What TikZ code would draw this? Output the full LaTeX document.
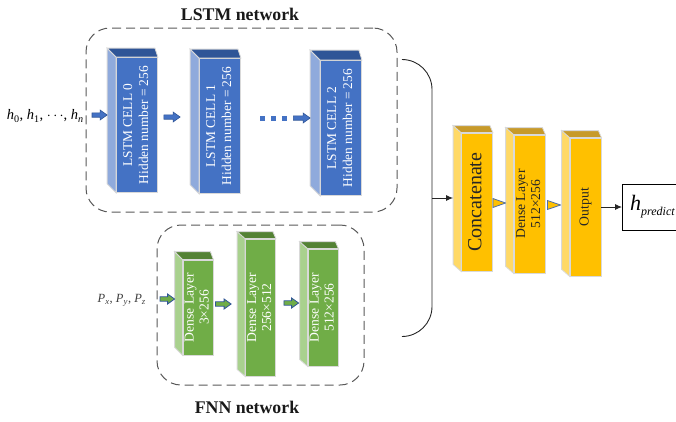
\documentclass[tikz,border=0pt]{standalone}
\usepackage{fontspec}
\setmainfont{Liberation Serif}
\usetikzlibrary{calc,arrows.meta}
\definecolor{bfront}{HTML}{4472C4}
\definecolor{btop}{HTML}{2F5597}
\definecolor{bside}{HTML}{8FAADC}
\definecolor{gfront}{HTML}{70AD47}
\definecolor{gtop}{HTML}{548235}
\definecolor{gside}{HTML}{A9D18E}
\definecolor{yfront}{HTML}{FFC000}
\definecolor{ytop}{HTML}{C79A2A}
\definecolor{yside}{HTML}{FFD966}
\definecolor{edgec}{HTML}{D9D9D9}
\definecolor{arrblue}{HTML}{2F5597}
\definecolor{dashc}{HTML}{595959}
\newcommand\vtext[1]{\rotatebox{90}{\begin{tabular}{@{}c@{}}#1\end{tabular}}}
\newcommand\cubefaces[4]{%
  \filldraw[draw=edgec,line width=0.8pt,fill=#4side] (#1.north west) -- ++(-#2,-#3) -- ($(#1.south west)+(-#2,-#3)$) -- (#1.south west) -- cycle;
  \filldraw[draw=edgec,line width=0.8pt,fill=#4top] (#1.north west) -- ++(-#2,-#3) -- ($(#1.north east)+(-3,-#3)$) -- (#1.north east) -- cycle;}
\newcommand\barrow[3][]{%
  \filldraw[#1] let \p1=(#2),\p2=(#3) in (\x1,\y1+2.2pt) -- (\x2-7pt,\y1+2.2pt) -- (\x2-7pt,\y1+5pt) -- (\x2,\y1) -- (\x2-7pt,\y1-5pt) -- (\x2-7pt,\y1-2.2pt) -- (\x1,\y1-2.2pt) -- cycle;}
\newcommand\ytriangle[2]{%
  \filldraw[ytri] let \p1=(#1),\p2=(#2) in (\x1,\y1+4.5pt) -- (\x2,\y1) -- (\x1,\y1-4.5pt) -- cycle;}
\tikzset{
  cube/.style={rectangle, draw=edgec, line width=0.8pt, inner sep=0pt},
  bcell/.style={cube, fill=bfront, text=white, font=\fontsize{13.4}{16}\selectfont, minimum width=41pt, minimum height=135pt},
  gcell/.style={cube, fill=gfront, text=white, font=\fontsize{13.6}{15}\selectfont, minimum width=30pt},
  ycell/.style={cube, fill=yfront, text=black!85, minimum width=31pt, minimum height=138pt},
  dbox/.style={draw=dashc, line width=1pt, dash pattern=on 9pt off 5pt, rounded corners=24pt, inner sep=0pt},
  title/.style={font=\bfseries\fontsize{17.8}{20}\selectfont, text=black!90},
  bluearr/.style={fill=bfront, draw=arrblue, line width=0.6pt},
  greenarr/.style={fill=gfront, draw=arrblue, line width=0.8pt},
  ytri/.style={fill=yfront, draw=arrblue!85, line width=0.8pt, line join=round},
  link/.style={line width=0.9pt, draw=black!85},
  linkarr/.style={link, -{Latex[length=7pt,width=6pt]}}
}
\begin{document}
\begin{tikzpicture}[x=1pt,y=-1pt]
\useasboundingbox (0,0) rectangle (676,421);
% dashed group boxes
\node[dbox, minimum width=311pt, minimum height=184pt] (lbox) at (241.5,120) {};
\node[dbox, minimum width=207pt, minimum height=160pt] (fbox) at (260.5,305) {};
\node[title] (lt) at (240,14) {LSTM network};
\node[title] (ft) at (247,407) {FNN network};
% LSTM cells
\node[bcell] (c0) at (137,125) {\vtext{LSTM CELL 0\\Hidden number = 256}};
\cubefaces{c0}{9}{9}{b}
\node[bcell] (c1) at (220,126) {\vtext{LSTM CELL 1\\Hidden number = 256}};
\cubefaces{c1}{9}{9}{b}
\node[bcell] (c2) at (341,128) {\vtext{LSTM CELL 2\\Hidden number = 256}};
\cubefaces{c2}{10}{10}{b}
% FNN layers
\node[gcell, minimum height=95pt] (d1) at (198,307.5) {\vtext{Dense Layer\\3×256}};
\cubefaces{d1}{8}{8}{g}
\node[gcell, minimum height=137pt] (d2) at (260.5,307.5) {\vtext{Dense Layer\\256×512}};
\cubefaces{d2}{8}{7}{g}
\node[gcell, minimum height=117pt] (d3) at (323,307.5) {\vtext{Dense Layer\\512×256}};
\cubefaces{d3}{8}{7}{g}
% merge layers
\node[ycell, font=\fontsize{20}{22}\selectfont] (y1) at (477,202) {\vtext{Concatenate}};
\cubefaces{y1}{8}{7}{y}
\node[ycell, font=\fontsize{13.6}{15}\selectfont] (y2) at (529.5,204) {\vtext{Dense Layer\\512×256}};
\cubefaces{y2}{8}{7}{y}
\node[ycell, font=\fontsize{13.7}{15}\selectfont] (y3) at (585.5,207) {\vtext{Output}};
\cubefaces{y3}{8}{7}{y}
% inputs
\node[anchor=east, inner sep=0pt, font=\fontsize{14.5}{15}\selectfont] (hin) at (84,116)
  {\textit{h}\textsubscript{0}, \textit{h}\textsubscript{1}, $\cdots$, \textit{h}\textsubscript{\textit{n}}};
\node[anchor=east, inner sep=0pt, font=\fontsize{12.5}{13}\selectfont, text=black!75] (pin) at (146,300)
  {\textit{P}\textsubscript{\textit{x}}, \textit{P}\textsubscript{\textit{y}}, \textit{P}\textsubscript{\textit{z}}};
% output box
\node[draw, line width=0.8pt, anchor=west, minimum width=60pt, minimum height=46pt, inner sep=0pt] (hbox) at (622,207)
  {{\fontsize{22}{22}\selectfont\itshape h}{\fontsize{12}{12}\selectfont\itshape\raisebox{-5pt}{predict}}};
% blue arrows
\coordinate (hinA) at ($(hin.east)+(8,-1)$);
\barrow[bluearr]{hinA}{$(c0.west)+(-9,-10)$}
\barrow[bluearr]{$(c0.east)+(6,-8)$}{$(c1.west)+(-19,-9)$}
\coordinate (dotsA) at ($(c1.east)+(19.5,-7.5)$);
\coordinate (dotsB) at ($(c1.east)+(46.5,-7.5)$);
\draw[draw=bfront, line width=5pt, dash pattern=on 5pt off 6pt] (dotsA) -- (dotsB);
\barrow[bluearr]{$(dotsB)+(6,-0.5)$}{$(c2.west)+(-10,-10)$}
% green arrows
\coordinate (pinA) at ($(pin.east)+(14,-1)$);
\barrow[greenarr]{pinA}{$(d1.west)+(-8,-8.5)$}
\barrow[greenarr]{$(d1.east)+(2,-3.5)$}{$(d2.west)+(-14,-3.5)$}
\barrow[greenarr]{$(d2.east)+(8,-4.5)$}{$(d3.west)+(-9,-4.5)$}
% yellow triangles
\ytriangle{$(y1.east)+(0,1)$}{$(y2.west)+(-8,-1)$}
\ytriangle{$(y2.east)+(2,1)$}{$(y3.west)+(-9,-2)$}
% bracket joining both networks
\coordinate (brT) at ($(lbox.north east)+(5,32)$);
\coordinate (brJ) at (432,198);
\coordinate (brB) at ($(fbox.south east)+(38,-49)$);
\draw[link, rounded corners=30pt] (brT) -| (brJ) |- (brB);
\draw[linkarr] (brJ) -- ($(y1.west)+(-8,-4)$);
\draw[linkarr] (y3.east) -- (hbox.west);
\end{tikzpicture}
\end{document}
